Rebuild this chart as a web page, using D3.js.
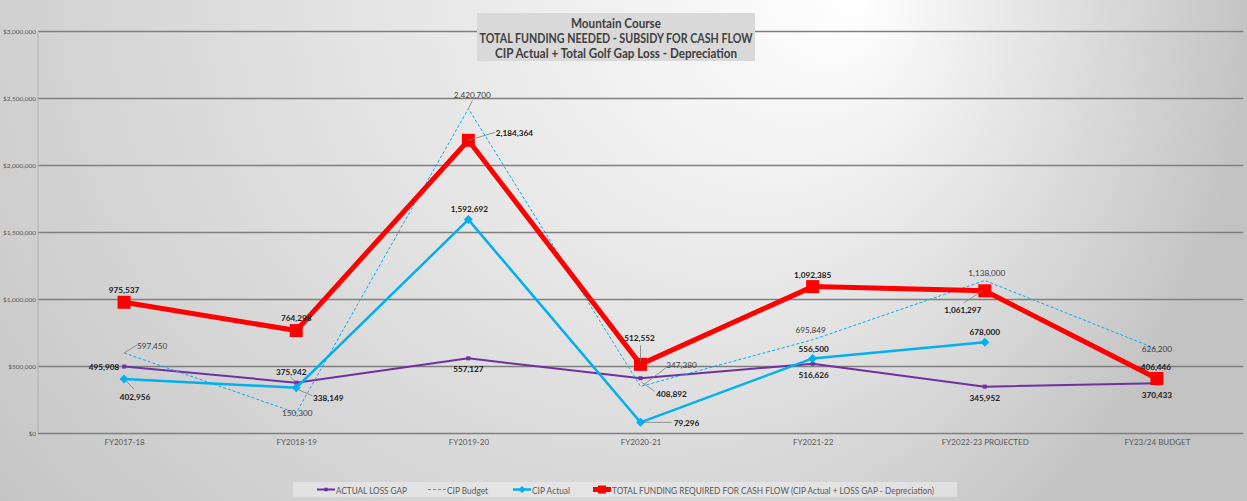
<!DOCTYPE html>
<html><head><meta charset="utf-8">
<script src="https://cdn.jsdelivr.net/npm/d3@7"></script>
<style>body{margin:0;background:#fff}svg{display:block}text{font-family:Lato,"Open Sans",sans-serif}</style>
</head><body><svg id="c" width="1247" height="501"></svg>
<script>
// ---------- data ----------
const categories = ["FY2017-18","FY2018-19","FY2019-20","FY2020-21","FY2021-22","FY2022-23 PROJECTED","FY23/24 BUDGET"];
const actualLossGap = [495908,375942,557127,408892,516626,345952,370433];
const cipBudget = [597450,150300,2420700,347380,695849,1138000,626200];
const cipActual = [402956,338149,1592692,79296,556500,678000,null];
const totalFunding = [975537,764298,2184364,512552,1092385,1061297,406446];
const yTicks = [0,500000,1000000,1500000,2000000,2500000,3000000];
const titleLines = ["Mountain Course","TOTAL FUNDING NEEDED - SUBSIDY FOR CASH FLOW","CIP Actual + Total Golf Gap Loss - Depreciation"];
const seriesNames = ["ACTUAL LOSS GAP","CIP Budget","CIP Actual","TOTAL FUNDING REQUIRED FOR CASH FLOW (CIP Actual + LOSS GAP - Depreciation)"];

// ---------- label placement (offsets from point, px) ----------
const lossLbl = [{dx:-20,dy:0},{dx:-5,dy:-11,l:[-1,-1,-6,-6]},{dx:0,dy:11},{dx:31,dy:16,l:[1,4,14,13]},{dx:1,dy:11},{dx:0,dy:11.5},{dx:0,dy:11.5}];
const budLbl = [{dx:28,dy:-7,l:[0,0,13,-8]},{dx:1,dy:0.5},{dx:4,dy:-13.5,l:[0,0,4,-8]},{dx:41,dy:-21.5,l:[3,-1.5,27,-20]},{dx:-2,dy:-10},{dx:2,dy:-7.5},{dx:0,dy:0}];
const actLbl = [{dx:11,dy:18,l:[1,1,10,10]},{dx:32,dy:10,l:[2,2,16,8]},{dx:1,dy:-10.6},{dx:46,dy:0.6,l:[2,0,31,0]},{dx:1,dy:-9.4},{dx:0,dy:-10},null];
const totLbl = [{dx:0,dy:-12.3},{dx:0,dy:-12.6},{dx:46,dy:-7.3,l:[0,0,27,-8]},{dx:-1,dy:-26.3,l:[0,-19,0,-3]},{dx:0,dy:-11.6},{dx:-22,dy:19.2,l:[-2,0,-21,12]},{dx:-1,dy:-11.5}];

const W = 1247, H = 501;
const M = {l:38, r:1243, t:31, b:433};
const svg = d3.select("#c");

// background
const defs = svg.append("defs");
const rg = defs.append("radialGradient").attr("id","bg").attr("gradientUnits","userSpaceOnUse")
  .attr("cx",500).attr("cy",0).attr("r",760).attr("fx",860).attr("fy",0);
rg.append("stop").attr("offset",0).attr("stop-color","#ffffff");
rg.append("stop").attr("offset",1).attr("stop-color","#c2c2c2");
svg.append("rect").attr("width",W).attr("height",H).attr("fill","url(#bg)");

const x = d3.scalePoint().domain(categories).range([M.l, M.r]).padding(0.5);
const y = d3.scaleLinear().domain([0,3000000]).range([M.b, M.t]);

// y axis + gridlines
const gy = svg.append("g").attr("transform",`translate(${M.l},0)`)
  .call(d3.axisLeft(y).tickValues(yTicks).tickFormat(d3.format("$,")).tickSize(-(M.r-M.l)).tickPadding(2));
gy.select(".domain").remove();
gy.selectAll(".tick line").attr("stroke","#7f7f7f").attr("stroke-width",1.5);
gy.selectAll(".tick text").attr("font-size",6.5).attr("fill","#595959").attr("font-family","Lato");
svg.append("line").attr("x1",M.l).attr("x2",M.l).attr("y1",M.t).attr("y2",M.b).attr("stroke","#b0b0b0").attr("stroke-width",1);

// x axis labels
const gx = svg.append("g").attr("transform",`translate(0,${M.b})`)
  .call(d3.axisBottom(x).tickSize(0).tickPadding(6.5));
gx.select(".domain").remove();
gx.selectAll(".tick text").attr("font-size",8).attr("fill","#595959").attr("font-family","Lato");

// title
svg.append("rect").attr("x",477).attr("y",13).attr("width",278).attr("height",48).attr("fill","#d9d9d9");
const titleW = [90,273,242];
svg.selectAll(".title").data(titleLines).join("text")
  .attr("x",616).attr("y",(d,i)=>22.5+i*15).attr("text-anchor","middle").attr("dominant-baseline","central")
  .attr("font-size",13).attr("font-weight","bold").attr("fill","#404040")
  .attr("textLength",(d,i)=>titleW[i]).attr("lengthAdjust","spacingAndGlyphs").text(d=>d);

// series
const series = [
  {vals:actualLossGap, color:"#7030a0", w:2, dash:null, marker:"sq", ms:4, lbl:lossLbl, bold:true},
  {vals:cipBudget, color:"#00b0f0", w:1, dash:"3,2", marker:null, lbl:budLbl, bold:false},
  {vals:cipActual, color:"#00b0f0", w:2.5, dash:null, marker:"dia", ms:4.5, lbl:actLbl, bold:true},
  {vals:totalFunding, color:"#ff0000", w:5, dash:null, marker:"sq", ms:13, lbl:totLbl, bold:true}
];
const line = d3.line().defined(d=>d[1]!=null).x(d=>x(d[0])).y(d=>y(d[1]));
const gLines = svg.append("g"), gLbl = svg.append("g");
series.forEach(s=>{
  const pts = categories.map((c,i)=>[c,s.vals[i]]);
  gLines.append("path").datum(pts).attr("d",line).attr("fill","none").attr("stroke",s.color)
    .attr("stroke-width",s.w).attr("stroke-dasharray",s.dash).attr("stroke-linejoin","miter");
  const P = pts.filter(d=>d[1]!=null);
  if(s.marker==="sq"){
    gLines.selectAll(null).data(P).join("rect")
      .attr("x",d=>x(d[0])-s.ms/2).attr("y",d=>y(d[1])-s.ms/2).attr("width",s.ms).attr("height",s.ms).attr("fill",s.color);
  } else if(s.marker==="dia"){
    gLines.selectAll(null).data(P).join("path")
      .attr("d",d=>{const cx=x(d[0]),cy=y(d[1]),r=s.ms;return `M${cx},${cy-r}L${cx+r},${cy}L${cx},${cy+r}L${cx-r},${cy}Z`;})
      .attr("fill",s.color);
  }
  pts.forEach((d,i)=>{
    const L = s.lbl[i]; if(d[1]==null||!L) return;
    const px=x(d[0]), py=y(d[1]);
    if(L.l) gLbl.append("line").attr("x1",px+L.l[0]).attr("y1",py+L.l[1]).attr("x2",px+L.l[2]).attr("y2",py+L.l[3])
      .attr("stroke","#7f7f7f").attr("stroke-width",0.8);
    gLbl.append("text").attr("x",px+L.dx).attr("y",py+L.dy).attr("text-anchor","middle").attr("dominant-baseline","central")
      .attr("font-size",8.2).attr("font-weight",s.bold?"bold":"normal").attr("fill",s.bold?"#1a1a1a":"#404040")
      .text(d3.format(",")(d[1]));
  });
});

// legend
svg.append("rect").attr("x",293).attr("y",482).attr("width",664).attr("height",15).attr("fill","#ececec").attr("opacity",0.6);
const legX = [317,428,513,593], legW = [71,41,38,322];
const ly = 489.5;
series.forEach((s,i)=>{
  const g = svg.append("g");
  g.append("line").attr("x1",legX[i]).attr("x2",legX[i]+18).attr("y1",ly).attr("y2",ly).attr("stroke",s.color)
    .attr("stroke-width",s.w).attr("stroke-dasharray",s.dash);
  const cx = legX[i]+9;
  if(s.marker==="sq"){ const m = i===3?8:3.5; g.append("rect").attr("x",cx-m/2).attr("y",ly-m/2).attr("width",m).attr("height",m).attr("fill",s.color);}
  else if(s.marker==="dia"){ const r=3.5; g.append("path").attr("d",`M${cx},${ly-r}L${cx+r},${ly}L${cx},${ly+r}L${cx-r},${ly}Z`).attr("fill",s.color);}
  g.append("text").attr("x",legX[i]+19).attr("y",ly).attr("dominant-baseline","central").attr("font-size",10)
    .attr("fill","#595959").attr("textLength",legW[i]).attr("lengthAdjust","spacingAndGlyphs").text(seriesNames[i]);
});
</script></body></html>
